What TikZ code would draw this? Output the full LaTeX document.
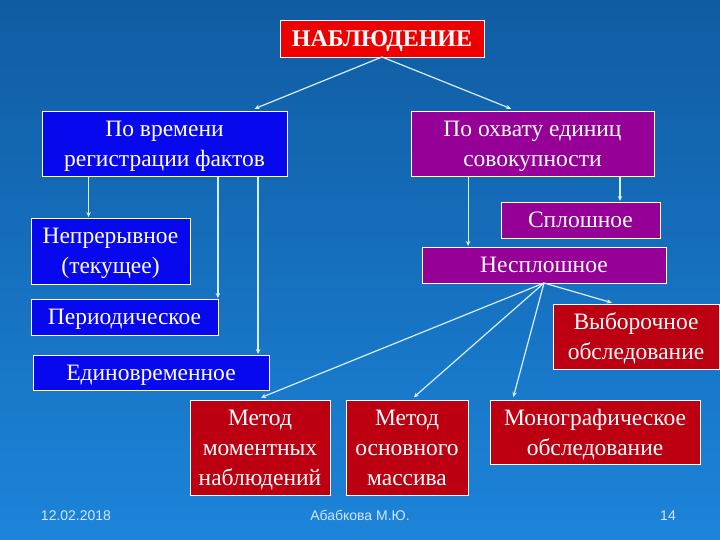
\documentclass[tikz,border=0pt]{standalone}
\usepackage{fontspec}
\setmainfont{Liberation Serif}
\setsansfont{Liberation Sans}
\usetikzlibrary{calc,arrows.meta}

\definecolor{bgtop}{RGB}{16,92,162}
\definecolor{bgbot}{RGB}{28,132,218}
\definecolor{boxblue}{RGB}{8,8,238}
\definecolor{boxpurple}{RGB}{150,0,150}
\definecolor{boxred}{RGB}{238,0,0}
\definecolor{boxdark}{RGB}{188,0,18}
\definecolor{linkcol}{RGB}{215,240,255}
\definecolor{footcol}{RGB}{210,232,255}

\begin{document}
\begin{tikzpicture}[x=1pt, y=-1pt,
	card/.style={draw=white, line width=0.8pt, text=white, inner sep=0pt, outer sep=0pt,
		align=center, text depth=-0.12em, font=\fontsize{23.5}{30}\selectfont},
	bluecard/.style={card, fill=boxblue},
	purplecard/.style={card, fill=boxpurple},
	redcard/.style={card, fill=boxdark},
	conn/.style={linkcol, line width=1.2pt, -{Stealth[length=5pt,width=4.5pt]}, shorten >=1pt},
	foot/.style={text=footcol, font=\sffamily\fontsize{14}{16}\selectfont, inner sep=0pt, anchor=base}]

	% Background
	\shade[top color=bgtop, bottom color=bgbot] (0,0) rectangle (720,540);
	\useasboundingbox (0,0) rectangle (720,540);

	% Top
	\node[card, fill=boxred, minimum width=204pt, minimum height=37pt,
		font=\bfseries\fontsize{24}{28}\selectfont] (obs) at (382,38.5) {НАБЛЮДЕНИЕ};

	% Left branch
	\node[bluecard, minimum width=245pt, minimum height=65pt] (time) at (164.5,143.5)
		{По времени\\регистрации фактов};
	\node[bluecard, minimum width=159pt, minimum height=66pt] (cont) at (110.5,251)
		{Непрерывное\\(текущее)};
	\node[bluecard, minimum width=187pt, minimum height=36pt] (period) at (124.5,317)
		{Периодическое};
	\node[bluecard, minimum width=236pt, minimum height=35pt] (once) at (151,372.5)
		{Единовременное};

	% Right branch
	\node[purplecard, minimum width=243pt, minimum height=65pt] (scope) at (532.5,143.5)
		{По охвату единиц\\совокупности};
	\node[purplecard, minimum width=159pt, minimum height=36pt] (solid) at (580.5,220)
		{Сплошное};
	\node[purplecard, minimum width=244pt, minimum height=36pt] (part) at (544,265)
		{Несплошное};

	% Kinds of partial observation
	\node[redcard, minimum width=166pt, minimum height=65pt] (sample) at (636,336.5)
		{Выборочное\\обследование};
	\node[redcard, minimum width=140pt, minimum height=95pt] (moment) at (260,447.5)
		{Метод\\моментных\\наблюдений};
	\node[redcard, minimum width=122pt, minimum height=95pt] (basic) at (407,447.5)
		{Метод\\основного\\массива};
	\node[redcard, minimum width=210pt, minimum height=64pt] (mono) at (595,432)
		{Монографическое\\обследование};

	% Links from the top
	\draw[conn, shorten >=6pt] (obs.south) -- ($(time.north)!0.69!(time.north east)$);
	\draw[conn, shorten >=6pt] (obs.south) -- ($(scope.north)!0.13!(scope.north west)$);

	% Links of the left branch
	\draw[conn] ($(time.south west)!0.19!(time.south east)$) coordinate (t1) -- (t1 |- cont.north);
	\draw[conn] ($(time.south west)!0.718!(time.south east)$) coordinate (t2) -- (t2 |- period.north);
	\draw[conn] ($(time.south west)!0.882!(time.south east)$) coordinate (t3) -- (t3 |- once.north);

	% Links of the right branch
	\draw[conn] ($(scope.south west)!0.235!(scope.south east)$) coordinate (s1) -- (s1 |- part.north);
	\draw[conn] ($(scope.south west)!0.86!(scope.south east)$) coordinate (s2) -- (s2 |- solid.north);

	% Fan below
	\draw[conn] (part.south) -- ($(moment.north)+(0,-2)$);
	\draw[conn] (part.south) -- ($(basic.north)+(6,-2)$);
	\draw[conn] (part.south) -- ($(mono.north west)!0.11!(mono.north east)+(0,-2)$);
	\draw[conn] (part.south) -- ($(sample.north west)!0.36!(sample.north east)+(0,-1)$);

	% Footer
	\node[foot] (date) at (76,520) {12.02.2018};
	\node[foot] (author) at (360,520) {Абабкова М.Ю.};
	\node[foot] (page) at (668,520) {14};
\end{tikzpicture}
\end{document}
